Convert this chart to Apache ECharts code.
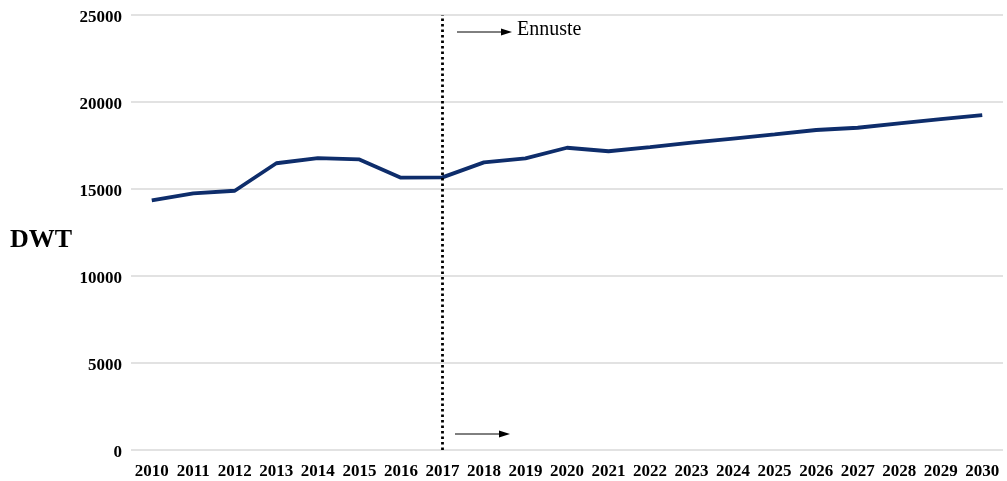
<!DOCTYPE html>
<html>
<head>
<meta charset="utf-8">
<script src="https://cdn.jsdelivr.net/npm/echarts@6/dist/echarts.min.js"></script>
<style>
  html, body { margin: 0; padding: 0; background: #fff; }
  #chart { width: 1007px; height: 481px; }
</style>
</head>
<body>
<div id="chart"></div>
<script>
// years on the x axis
const years = [
  "2010", "2011", "2012", "2013", "2014", "2015", "2016", "2017", "2018", "2019", "2020",
  "2021", "2022", "2023", "2024", "2025", "2026", "2027", "2028", "2029", "2030"
];

// DWT values (history up to 2017, forecast after)
const dwtValues = [
  14350, 14750, 14900, 16480, 16780, 16700, 15650, 15670, 16530, 16760, 17370,
  17170, 17410, 17660, 17900, 18140, 18390, 18520, 18770, 19010, 19250
];

const forecastStart = "2017";
const forecastLabel = "Ennuste";
const yTitle = "DWT";

const serif = "'Liberation Serif', 'Times New Roman', serif";

const myChart = echarts.init(document.getElementById("chart"));

const option = {
  animation: false,
  grid: {
    left: 131,
    right: 4,
    top: 15,
    bottom: 31,
  },
  xAxis: {
    type: "category",
    data: years,
    boundaryGap: true,
    axisLine: { show: false },
    axisTick: { show: false },
    axisLabel: {
      interval: 0,
      margin: 13,
      fontFamily: serif,
      fontWeight: "bold",
      fontSize: 17,
      color: "#000",
    },
  },
  yAxis: {
    type: "value",
    min: 0,
    max: 25000,
    interval: 5000,
    axisLine: { show: false },
    axisTick: { show: false },
    axisLabel: {
      margin: 9,
      color: "#000",
      // labels sit a little below their gridlines in the original
      formatter: (v) => "{v|" + v + "}",
      rich: {
        v: {
          fontFamily: serif,
          fontWeight: "bold",
          fontSize: 17,
          color: "#000",
          padding: [6, 0, 0, 0],
        },
      },
    },
    splitLine: {
      lineStyle: { color: "#e2e2e2", width: 2 },
    },
  },
  series: [
    {
      name: "DWT",
      type: "line",
      data: dwtValues,
      symbol: "none",
      lineStyle: { color: "#0e2d6b", width: 3.8 },
      markLine: {
        silent: true,
        symbol: "none",
        label: { show: false },
        lineStyle: { color: "#000", type: [2.5, 3], width: 2.8 },
        data: [{ xAxis: forecastStart }],
      },
    },
  ],
  // axis title, forecast arrows and label
  graphic: [
    {
      type: "text",
      left: 10,
      top: 227,
      style: {
        text: yTitle,
        font: "bold 26px " + serif,
        fill: "#000",
      },
    },
    {
      type: "line",
      shape: { x1: 457, y1: 32, x2: 502, y2: 32 },
      style: { stroke: "#000", lineWidth: 1 },
    },
    {
      type: "polygon",
      shape: { points: [[501, 28.5], [512, 32], [501, 35.5]] },
      style: { fill: "#000" },
    },
    {
      type: "text",
      left: 517,
      top: 20,
      style: {
        text: forecastLabel,
        font: "20px " + serif,
        fill: "#000",
      },
    },
    {
      type: "line",
      shape: { x1: 455, y1: 434, x2: 500, y2: 434 },
      style: { stroke: "#000", lineWidth: 1 },
    },
    {
      type: "polygon",
      shape: { points: [[499, 430.5], [510, 434], [499, 437.5]] },
      style: { fill: "#000" },
    },
  ],
};

myChart.setOption(option);
</script>
</body>
</html>
